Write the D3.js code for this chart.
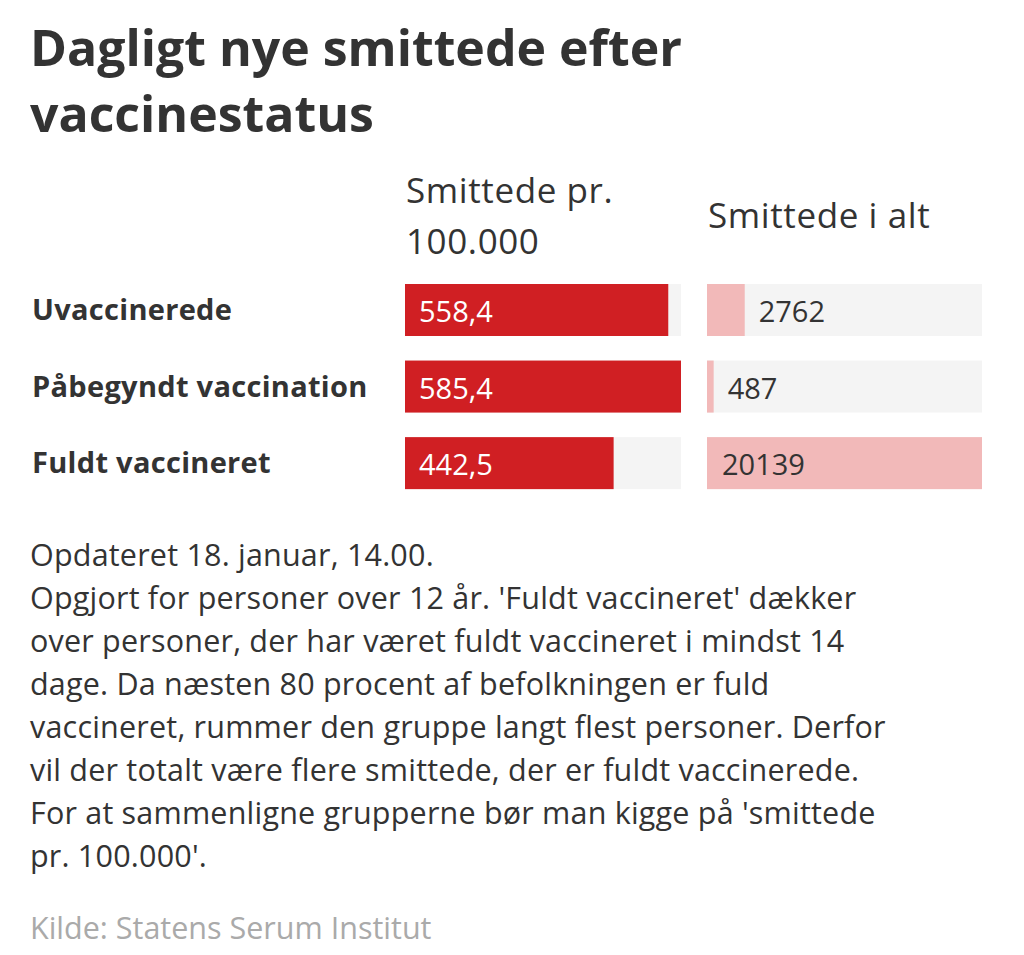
<!doctype html><html><head><style>body{margin:0;background:#fff}</style></head><body><script src='https://d3js.org/d3.v7.min.js'></script>
<script>
  const categories = ["Uvaccinerede", "Påbegyndt vaccination", "Fuldt vaccineret"];
  const per100k = [558.4, 585.4, 442.5];
  const total = [2762, 487, 20139];
  const noteLines = [
    "Opdateret 18. januar, 14.00.",
    "Opgjort for personer over 12 år. 'Fuldt vaccineret' dækker",
    "over personer, der har været fuldt vaccineret i mindst 14",
    "dage. Da næsten 80 procent af befolkningen er fuld",
    "vaccineret, rummer den gruppe langt flest personer. Derfor",
    "vil der totalt være flere smittede, der er fuldt vaccinerede.",
    "For at sammenligne grupperne bør man kigge på 'smittede",
    "pr. 100.000'."
  ];

  const font = "'Open Sans', sans-serif";
  const svg = d3.select("body").append("svg")
    .attr("width", 1024).attr("height", 955)
    .style("font-family", font);

  // title
  svg.selectAll(".title").data(["Dagligt nye smittede efter", "vaccinestatus"]).enter()
    .append("text")
    .attr("x", 30).attr("y", (d, i) => 66 + i * 66)
    .attr("font-size", "50px").attr("font-weight", "bold").attr("fill", "#333")
    .text(d => d);

  // column headers
  const hdr = (t, x, yy) => svg.append("text").attr("x", x).attr("y", yy)
    .attr("font-size", "35px").attr("fill", "#333").style("letter-spacing", "0.6px").text(t);
  hdr("Smittede pr.", 406, 203);
  hdr("100.000", 406, 254);
  hdr("Smittede i alt", 708, 228);

  const y = d3.scaleBand().domain(categories).range([284, 494]).paddingInner(18 / 70).paddingOuter(0);
  const x1 = d3.scaleLinear().domain([0, d3.max(per100k)]).range([0, 276]);
  const x2 = d3.scaleLinear().domain([0, d3.max(total)]).range([0, 275]);

  const g = svg.selectAll(".row").data(categories).enter().append("g")
    .attr("transform", d => "translate(0," + y(d) + ")");
  const bh = 52;

  g.append("text").attr("x", 32).attr("y", bh / 2).attr("dy", ".35em")
    .attr("font-size", "29px").attr("font-weight", "bold").attr("fill", "#333")
    .style("letter-spacing", "0.3px")
    .text(d => d);

  g.append("rect").attr("x", 405).attr("width", 276).attr("height", bh).attr("fill", "#f4f4f4");
  g.append("rect").attr("x", 405).attr("width", (d, i) => x1(per100k[i])).attr("height", bh).attr("fill", "#d01f23");
  g.append("text").attr("x", 419).attr("y", bh / 2 + 2).attr("dy", ".35em")
    .attr("font-size", "29px").attr("fill", "#fff")
    .text((d, i) => d3.format(".1f")(per100k[i]).replace(".", ","));

  g.append("rect").attr("x", 707).attr("width", 275).attr("height", bh).attr("fill", "#f4f4f4");
  g.append("rect").attr("x", 707).attr("width", (d, i) => x2(total[i])).attr("height", bh).attr("fill", "#f2b9b9");
  g.append("text")
    .attr("x", (d, i) => { const e = 707 + x2(total[i]) + 14; return e + 90 > 982 ? 722 : e; })
    .attr("y", bh / 2 + 2).attr("dy", ".35em")
    .attr("font-size", "29px").attr("fill", "#333")
    .text((d, i) => total[i]);

  svg.selectAll(".note").data(noteLines).enter().append("text")
    .attr("x", 30).attr("y", (d, i) => 566 + i * 43)
    .attr("font-size", "30.5px").attr("fill", "#333").style("letter-spacing", "0.2px").text(d => d);

  svg.append("text").attr("x", 30).attr("y", 939).attr("font-size", "30.5px").attr("fill", "#aaa")
    .text("Kilde: Statens Serum Institut");
</script></body></html>
